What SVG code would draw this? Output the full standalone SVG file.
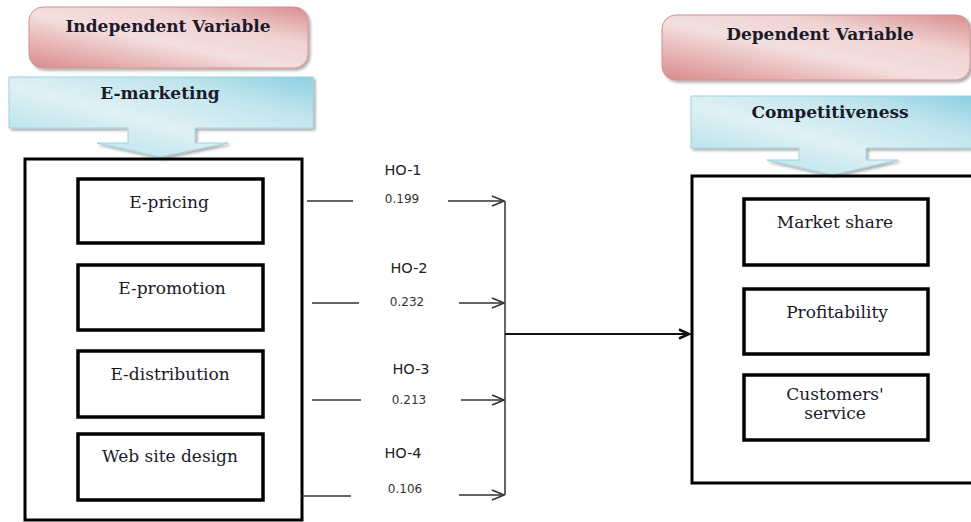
<svg xmlns="http://www.w3.org/2000/svg" width="971" height="522" viewBox="0 0 971 522">
<defs>
<linearGradient id="pink" x1="0" y1="1" x2="1" y2="0">
<stop offset="0" stop-color="#d98a8a"/>
<stop offset="0.45" stop-color="#f4dfdf"/>
<stop offset="0.7" stop-color="#f0d2d2"/>
<stop offset="1" stop-color="#d88c8c"/>
</linearGradient>
<linearGradient id="blue" x1="0" y1="1" x2="1" y2="0">
<stop offset="0" stop-color="#a9dbe7"/>
<stop offset="0.45" stop-color="#dff1f5"/>
<stop offset="0.75" stop-color="#bfe4ee"/>
<stop offset="1" stop-color="#8ccfe0"/>
</linearGradient>
<filter id="sh" x="-5%" y="-10%" width="115%" height="130%">
<feGaussianBlur in="SourceAlpha" stdDeviation="1.5"/>
<feOffset dx="2" dy="2" result="b"/>
<feComponentTransfer><feFuncA type="linear" slope="0.35"/></feComponentTransfer>
<feMerge><feMergeNode/><feMergeNode in="SourceGraphic"/></feMerge>
</filter>
<marker id="open" markerWidth="14" markerHeight="12" refX="13" refY="6" orient="auto" markerUnits="userSpaceOnUse">
<polyline points="1,1 13,6 1,11" fill="none" stroke="#333" stroke-width="1.5"/>
</marker>
<marker id="main" markerWidth="14" markerHeight="12" refX="12" refY="6" orient="auto" markerUnits="userSpaceOnUse">
<polyline points="2,1.5 12,6 2,10.5" fill="none" stroke="#111" stroke-width="2.5"/>
</marker>
</defs>
<style>
.title{font-family:"DejaVu Serif","Liberation Serif",serif;font-weight:bold;font-size:17px;fill:#1a1a2a;text-anchor:middle}
.item{font-family:"DejaVu Serif","Liberation Serif",serif;font-size:17px;fill:#1a1a2a;text-anchor:middle}
.outer{fill:none;stroke:#000;stroke-width:3}
.inner{fill:#fff;stroke:#000;stroke-width:3.5}
.ho{font-family:"DejaVu Sans","Liberation Sans",sans-serif;font-size:14.5px;fill:#222;text-anchor:middle}
.val{font-family:"DejaVu Sans","Liberation Sans",sans-serif;font-size:12px;fill:#333;text-anchor:middle}
.ln{stroke:#333;stroke-width:1.5;fill:none}
</style>
<rect width="971" height="522" fill="#fff"/>

<g id="independent-variable">
<rect x="29" y="7" width="279" height="61" rx="14" fill="url(#pink)" stroke="#d39292" stroke-width="1" filter="url(#sh)"/>
<text class="title" x="168" y="32">Independent Variable</text>
</g>
<g id="e-marketing">
<path d="M9,77 H313 V128 H195 V143 H228 L160,157 L97,143 H128 V128 H9 Z" fill="url(#blue)" stroke="#9fd3e0" stroke-width="1" filter="url(#sh)"/>
<text class="title" x="160" y="99">E-marketing</text>
</g>
<g id="left-box">
<rect class="outer" x="25" y="159" width="277" height="361"/>
</g>
<g id="e-pricing">
<rect class="inner" x="78" y="179" width="185" height="64"/>
<text class="item" x="169" y="208">E-pricing</text>
</g>
<g id="e-promotion">
<rect class="inner" x="78" y="265" width="185" height="65"/>
<text class="item" x="172" y="294">E-promotion</text>
</g>
<g id="e-distribution">
<rect class="inner" x="78" y="351" width="185" height="66"/>
<text class="item" x="170" y="380">E-distribution</text>
</g>
<g id="web-site-design">
<rect class="inner" x="78" y="434" width="185" height="66"/>
<text class="item" x="170" y="462">Web site design</text>
</g>

<g id="dependent-variable">
<rect x="662" y="15" width="308" height="65" rx="14" fill="url(#pink)" stroke="#d39292" stroke-width="1" filter="url(#sh)"/>
<text class="title" x="820" y="40">Dependent Variable</text>
</g>
<g id="competitiveness">
<path d="M691,96 H975 V148 H866 V160 H898 L832,175 L767,160 H799 V148 H691 Z" fill="url(#blue)" stroke="#9fd3e0" stroke-width="1" filter="url(#sh)"/>
<text class="title" x="830" y="118">Competitiveness</text>
</g>
<g id="right-box">
<rect class="outer" x="692" y="176" width="290" height="307"/>
</g>
<g id="market-share">
<rect class="inner" x="744" y="199" width="184" height="66"/>
<text class="item" x="835" y="228">Market share</text>
</g>
<g id="profitability">
<rect class="inner" x="744" y="289" width="184" height="65"/>
<text class="item" x="837" y="318">Profitability</text>
</g>
<g id="customers-service">
<rect class="inner" x="744" y="375" width="184" height="65"/>
<text class="item" x="835" y="400">Customers'</text>
<text class="item" x="835" y="419">service</text>
</g>

<g id="connectors">
<line class="ln" x1="307" y1="201" x2="353" y2="201"/>
<line class="ln" x1="448" y1="201" x2="504" y2="201" marker-end="url(#open)"/>
<line class="ln" x1="312" y1="303" x2="359" y2="303"/>
<line class="ln" x1="459" y1="303" x2="504" y2="303" marker-end="url(#open)"/>
<line class="ln" x1="312" y1="400" x2="361" y2="400"/>
<line class="ln" x1="461" y1="400" x2="504" y2="400" marker-end="url(#open)"/>
<line class="ln" x1="302" y1="496" x2="351" y2="496"/>
<line class="ln" x1="459" y1="495" x2="504" y2="495" marker-end="url(#open)"/>
<line class="ln" x1="505" y1="201" x2="505" y2="495"/>
<line x1="505" y1="334" x2="689" y2="334" stroke="#111" stroke-width="2" marker-end="url(#main)"/>
<text class="ho" x="403" y="175">HO-1</text>
<text class="val" x="402" y="203">0.199</text>
<text class="ho" x="409" y="273">HO-2</text>
<text class="val" x="407" y="306">0.232</text>
<text class="ho" x="411" y="374">HO-3</text>
<text class="val" x="409" y="404">0.213</text>
<text class="ho" x="403" y="458">HO-4</text>
<text class="val" x="405" y="493">0.106</text>
</g>
</svg>
